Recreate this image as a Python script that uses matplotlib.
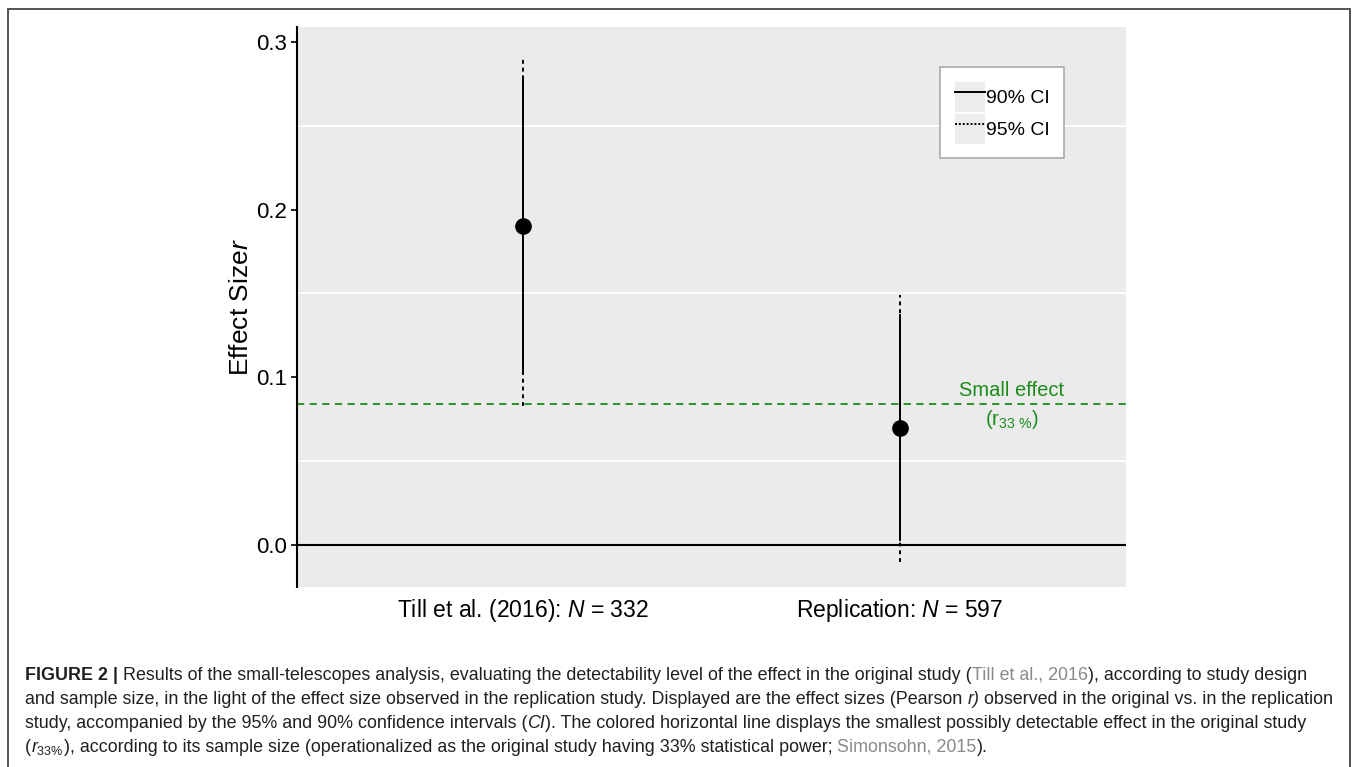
import matplotlib
matplotlib.use("Agg")
import matplotlib.pyplot as plt
from matplotlib.lines import Line2D
from matplotlib.patches import Patch, Rectangle
from matplotlib.legend_handler import HandlerTuple

plt.rcParams['font.family'] = ['Liberation Sans', 'DejaVu Sans']
plt.rcParams['mathtext.fontset'] = 'custom'
plt.rcParams['mathtext.rm'] = 'Liberation Sans'
plt.rcParams['mathtext.it'] = 'Liberation Sans:italic'
plt.rcParams['mathtext.bf'] = 'Liberation Sans:bold'

# ---------------- data ----------------
studies = ["Till et al. (2016): $\\mathit{N}$ = 332", "Replication: $\\mathit{N}$ = 597"]
effect = [0.190, 0.070]
ci90_low = [0.103, 0.003]
ci90_high = [0.277, 0.137]
ci95_low = [0.083, -0.010]
ci95_high = [0.290, 0.149]
small_effect = 0.084
yticks = [0.0, 0.1, 0.2, 0.3]
ytick_labels = ["0.0", "0.1", "0.2", "0.3"]
minor_grid = [0.05, 0.15, 0.25]
legend_labels = ["90% CI", "95% CI"]

W, H = 1357, 767
fig = plt.figure(figsize=(W / 100, H / 100), dpi=100)
fig.patch.set_facecolor('white')

ax = fig.add_axes([297 / W, 1 - 587 / H, (1126 - 297) / W, (587 - 27) / H])
ax.set_facecolor('#ebebeb')
x = [1, 2]

ax.set_yticks(minor_grid, minor=True)
ax.grid(which='minor', axis='y', color='white', lw=1.3)
ax.grid(which='major', visible=False)
ax.set_axisbelow(True)

ax.axhline(0, color='black', lw=1.5, zorder=2)
ax.axhline(small_effect, color='#1a8c1a', lw=1.3, ls=(0, (4, 3)), zorder=2)

dash95 = (0, (2, 2))
for xi, lo, hi in zip(x, ci95_low, ci95_high):
    ax.plot([xi, xi], [lo, hi], color='black', lw=1.4, ls=dash95, zorder=3)
for xi, lo, hi in zip(x, ci90_low, ci90_high):
    ax.plot([xi, xi], [lo, hi], color='black', lw=1.4, ls='-', zorder=4)
ax.plot(x, effect, 'o', color='black', ms=11, zorder=5)

ax.set_xlim(0.4, 2.6)
ax.set_ylim(-0.02505, 0.3089)
ax.set_xticks(x)
ax.set_xticklabels(studies, fontsize=16.5)
ax.tick_params(axis='x', length=0, pad=7)
ax.set_yticks(yticks)
ax.set_yticklabels(ytick_labels, fontsize=16)
ax.tick_params(axis='y', which='major', length=4, width=1.2, pad=3)
ax.tick_params(axis='y', which='minor', length=0)
for s in ['top', 'right', 'bottom']:
    ax.spines[s].set_visible(False)
ax.spines['left'].set_linewidth(1.5)
ax.spines['left'].set_color('black')

ax.set_ylabel("Effect Size$\\mathit{r}$", fontsize=19, labelpad=2.5)

lab_x = 2.0 + (1012 - 900) / 376.8
ax.text(lab_x, small_effect + 0.0025, "Small effect",
        color='#1a8c1a', fontsize=14.5, ha='center', va='bottom')
ax.text(lab_x, small_effect - 0.0025, "($\\mathrm{r}_{\\mathrm{33\\ \\%}}$)",
        color='#1a8c1a', fontsize=14.5, ha='center', va='top')

bg = '#ececec'
h90 = (Patch(fc=bg, ec='none'), Line2D([], [], color='black', lw=1.4, ls='-'))
h95 = (Patch(fc=bg, ec='none'), Line2D([], [], color='black', lw=1.4, ls=(0, (1, 1))))
leg = ax.legend([h90, h95], legend_labels, handler_map={tuple: HandlerTuple(ndivide=1, pad=0)},
                loc='upper left', bbox_to_anchor=((940 - 297) / 829, (587 - 67) / 560),
                borderaxespad=0, fontsize=14, frameon=True, fancybox=False,
                handlelength=1.55, handleheight=2.0, handletextpad=0.05,
                labelspacing=0.1, borderpad=0.75)
leg.get_frame().set_edgecolor('#b0b0b0')
leg.get_frame().set_linewidth(1.3)
leg.get_frame().set_facecolor('white')
leg.get_frame().set_alpha(1)

# frame around the figure
fig.add_artist(Rectangle((8 / W, -0.02), (1350 - 8) / W, 1 - 9 / H + 0.02,
                         transform=fig.transFigure, fill=False, ec='#444444', lw=1.3))

# caption
cap_fs = 12.9
txt_col = '#231f20'
gray = '#8a8a8a'
lines = [
    [("FIGURE 2 |", dict(weight='bold')),
     (" Results of the small-telescopes analysis, evaluating the detectability level of the effect in the original study (", {}),
     ("Till et al., 2016", dict(color=gray)),
     ("), according to study design", {})],
    [("and sample size, in the light of the effect size observed in the replication study. Displayed are the effect sizes (Pearson ", {}),
     ("r)", dict(style='italic')),
     (" observed in the original vs. in the replication", {})],
    [("study, accompanied by the 95% and 90% confidence intervals (", {}),
     ("CI", dict(style='italic')),
     ("). The colored horizontal line displays the smallest possibly detectable effect in the original study", {})],
    [("(", {}),
     ("$\\mathit{r}_{\\mathrm{33\\%}}$", {}),
     ("), according to its sample size (operationalized as the original study having 33% statistical power; ", {}),
     ("Simonsohn, 2015", dict(color=gray)),
     (").", {})],
]
line_y = [680, 704, 728, 752]
renderer = fig.canvas.get_renderer()
for pieces, yy in zip(lines, line_y):
    xpix = 25
    for s, props in pieces:
        kw = dict(color=txt_col, fontsize=cap_fs)
        kw.update(props)
        t = fig.text(xpix / W, 1 - yy / H, s, ha='left', va='baseline', **kw)
        bb = t.get_window_extent(renderer=renderer)
        xpix += bb.width

fig.savefig("out.png", dpi=100)
